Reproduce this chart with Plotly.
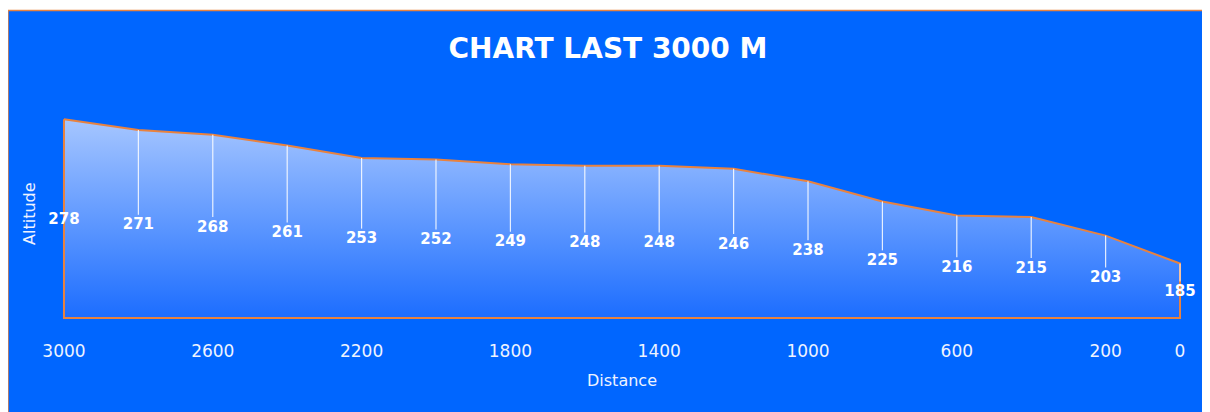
import plotly.graph_objects as go

distance = [3000, 2800, 2600, 2400, 2200, 2000, 1800, 1600, 1400, 1200, 1000, 800, 600, 400, 200, 0]
altitude = [278, 271, 268, 261, 253, 252, 249, 248, 248, 246, 238, 225, 216, 215, 203, 185]
tick_vals = [3000, 2600, 2200, 1800, 1400, 1000, 600, 200, 0]
tick_text = [str(v) for v in tick_vals]

BASE = 150
TOP = 300
BLUE = "#0066FF"
ORANGE = "#E8823F"
FONT = "DejaVu Sans"

W, H = 1210, 412
# plot-area geometry chosen so that 3000..0 maps to x=56..1172 and 150..300 to y=310..77
ypx = 233 / (TOP - BASE)
xpx = 1116 / 3000
PADY = 2
PADX = 8
ml = 56 - PADX * xpx
mr = 38 - PADX * xpx
mt = 77
mb = 102 - PADY * ypx
pw, ph = W - ml - mr, H - mt - mb

fig = go.Figure()

# area (closed polygon so the border runs on all sides)
xs = distance + [distance[-1], distance[0], distance[0]]
ys = altitude + [BASE, BASE, altitude[0]]
fig.add_trace(go.Scatter(
    x=xs, y=ys, mode="lines", fill="toself",
    line=dict(color=ORANGE, width=2),
    fillgradient=dict(type="vertical", start=BASE, stop=max(altitude),
                      colorscale=[[0, "#1C6DFF"], [1, "#A6C6FF"]]),
    hoverinfo="skip", showlegend=False,
))

# drop lines
dx, dy = [], []
for d, a in zip(distance[1:], altitude[1:]):
    dx += [d, d, None]
    dy += [a, (a + BASE) / 2 + 6, None]
fig.add_trace(go.Scatter(
    x=dx, y=dy, mode="lines", line=dict(color="rgba(255,255,255,0.85)", width=1.2),
    hoverinfo="skip", showlegend=False,
))

# data labels (centre of the area)
fig.add_trace(go.Scatter(
    x=distance, y=[(a + BASE) / 2 - 1 for a in altitude], mode="text",
    text=[str(a) for a in altitude], cliponaxis=False,
    textfont=dict(family=FONT, size=15, color="white", weight="bold"),
    hoverinfo="skip", showlegend=False,
))

fig.update_layout(
    width=W, height=H,
    margin=dict(l=ml, r=mr, t=mt, b=mb),
    paper_bgcolor="white", plot_bgcolor=BLUE,
    title=dict(text="<b>CHART LAST 3000 M</b>", x=600 / W, xanchor="center",
               y=1 - 40 / H, yanchor="middle",
               font=dict(family=FONT, size=28, color="white")),
    font=dict(family=FONT, color="white"),
    shapes=[dict(type="rect", xref="paper", yref="paper", layer="below",
                 x0=(0 - ml) / pw, x1=(W + 5 - ml) / pw,
                 y0=-(mb + 5) / ph, y1=(H - mb - 2.5) / ph,
                 fillcolor=BLUE, line=dict(color=ORANGE, width=1.5))],
    annotations=[dict(text="Altitude", textangle=-90, showarrow=False,
                      xref="paper", yref="paper",
                      x=(22 - ml) / pw, y=(H - mb - 205) / ph,
                      xanchor="center", yanchor="middle",
                      font=dict(family=FONT, size=16, color="#EEF3FF"))],
    xaxis=dict(range=[3000 + PADX, 0 - PADX], tickvals=tick_vals, ticktext=tick_text,
               showgrid=False, zeroline=False, showline=False,
               ticks="outside", ticklen=0, ticklabelstandoff=15,
               tickfont=dict(size=17, color="#EEF3FF"),
               title=dict(text="Distance", standoff=14,
                          font=dict(size=16, color="#EEF3FF"))),
    yaxis=dict(range=[BASE - PADY, TOP], showgrid=False, zeroline=False, showline=False,
               showticklabels=False),
)

fig.write_html("out.html")
